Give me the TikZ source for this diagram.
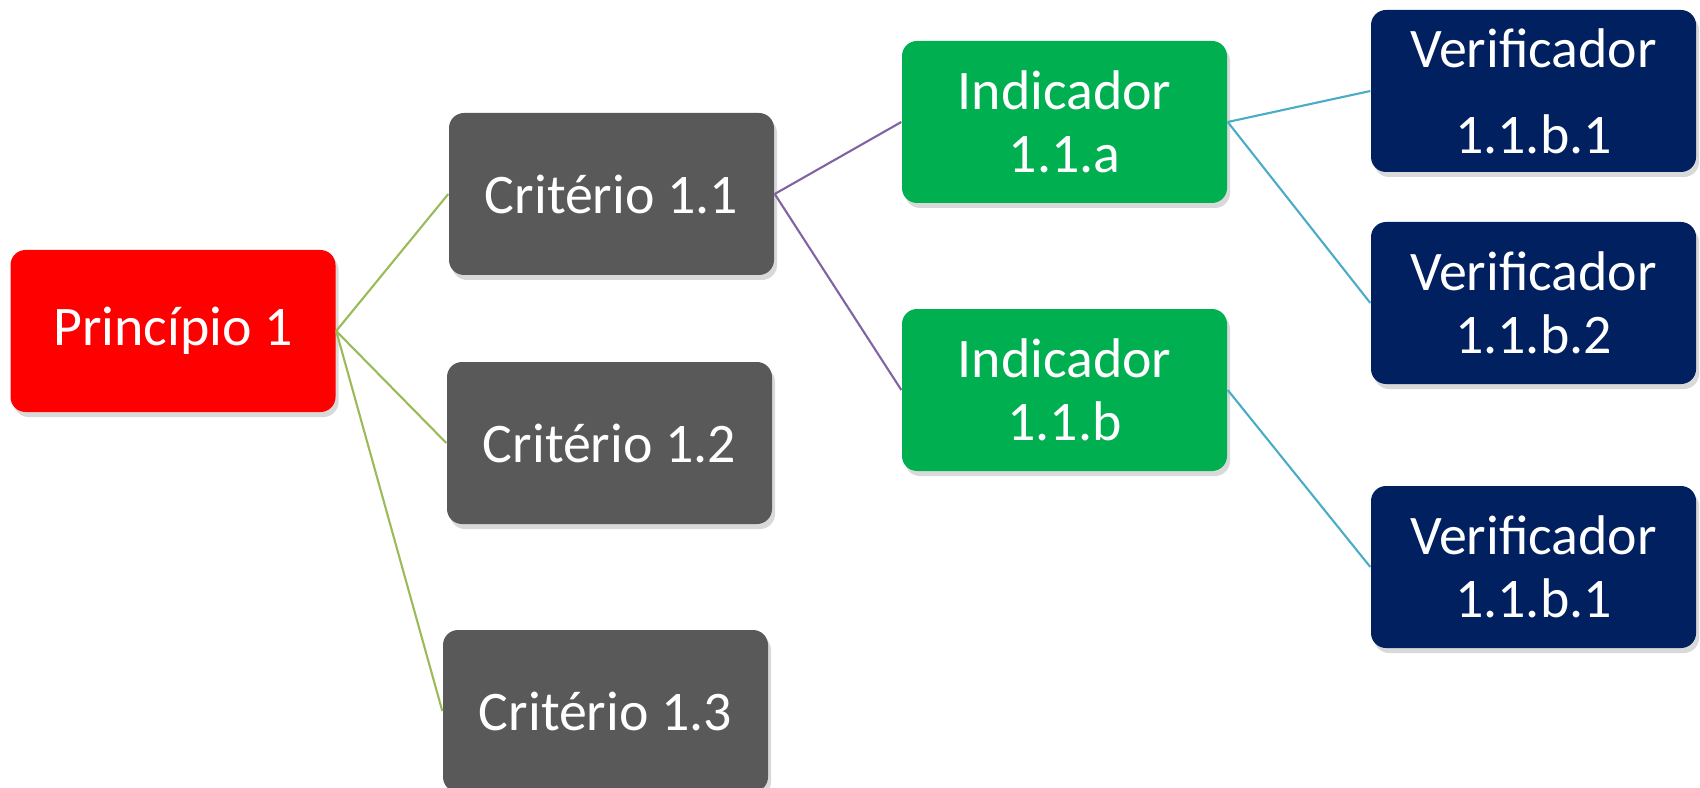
\documentclass[tikz,border=0pt]{standalone}
\usepackage{fontspec}
\setmainfont{Carlito}
\usepackage{xcolor}
\usetikzlibrary{shadows}
\definecolor{prinred}{HTML}{FF0000}
\definecolor{critgray}{HTML}{595959}
\definecolor{indgreen}{HTML}{00B050}
\definecolor{vernavy}{HTML}{002060}
\definecolor{linegreen}{HTML}{9BBB59}
\definecolor{linepurple}{HTML}{8064A2}
\definecolor{lineteal}{HTML}{4BACC6}

\begin{document}
\begin{tikzpicture}[x=0.1mm, y=-0.1mm,
  box/.style={rounded corners=1.5mm, minimum width=32.5mm, minimum height=16.2mm,
    text=white, align=center, inner sep=0pt,
    font=\fontsize{15.9}{17.8}\selectfont,
    drop shadow={shadow xshift=0.3mm, shadow yshift=-0.5mm, opacity=0.3}},
  prinbox/.style={box, fill=prinred},
  critbox/.style={box, fill=critgray},
  indbox/.style={box, fill=indgreen},
  verbox/.style={box, fill=vernavy},
  link/.style={line width=0.6pt}]
\useasboundingbox (0,0) rectangle (1700,788);

\node[prinbox] (p1) at (173,331) {Princípio 1};
\node[critbox] (c11) at (611.5,194) {Critério 1.1};
\node[critbox] (c12) at (609.5,443) {Critério 1.2};
\node[critbox] (c13) at (605.5,711) {Critério 1.3};
\node[indbox] (i11a) at (1064.5,122) {Indicador\\1.1.a};
\node[indbox] (i11b) at (1064.5,390) {Indicador\\1.1.b};
\node[verbox] (v1) at (1533.5,91) {Verificador\\[6.6pt]1.1.b.1};
\node[verbox] (v2) at (1533.5,303) {Verificador\\1.1.b.2};
\node[verbox] (v3) at (1533.5,567) {Verificador\\1.1.b.1};

\draw[link, linegreen] (p1.east) -- (c11.west);
\draw[link, linegreen] (p1.east) -- (c12.west);
\draw[link, linegreen] (p1.east) -- (c13.west);
\draw[link, linepurple] (c11.east) -- (i11a.west);
\draw[link, linepurple] (c11.east) -- (i11b.west);
\draw[link, lineteal] (i11a.east) -- (v1.west);
\draw[link, lineteal] (i11a.east) -- (v2.west);
\draw[link, lineteal] (i11b.east) -- (v3.west);
\end{tikzpicture}
\end{document}
